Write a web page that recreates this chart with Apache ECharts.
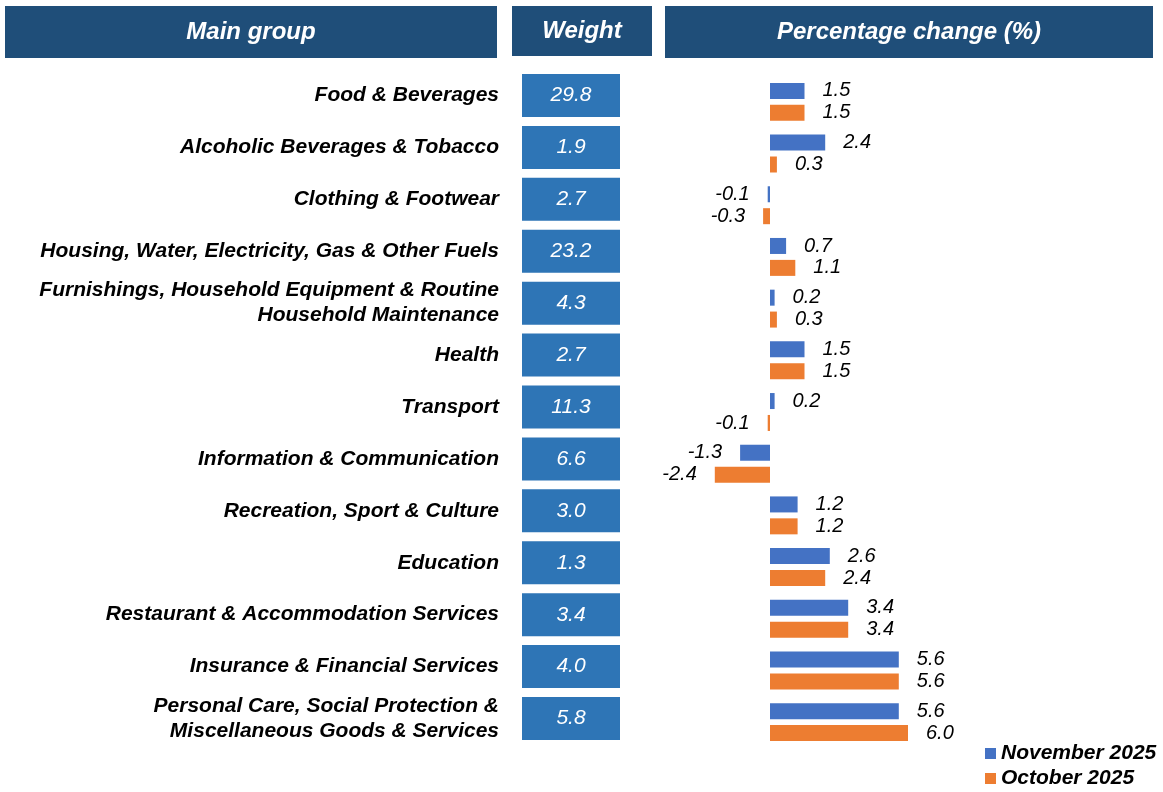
<!DOCTYPE html>
<html>
<head>
<meta charset="utf-8">
<script src="https://cdn.jsdelivr.net/npm/echarts@6/dist/echarts.min.js"></script>
<style>
  html, body { margin: 0; padding: 0; background: #fff; }
  #chart { width: 1163px; height: 792px; }
</style>
</head>
<body>
<div id="chart"></div>
<script>
var groups = [
  'Food & Beverages',
  'Alcoholic Beverages & Tobacco',
  'Clothing & Footwear',
  'Housing, Water, Electricity, Gas & Other Fuels',
  'Furnishings, Household Equipment & Routine\nHousehold Maintenance',
  'Health',
  'Transport',
  'Information & Communication',
  'Recreation, Sport & Culture',
  'Education',
  'Restaurant & Accommodation Services',
  'Insurance & Financial Services',
  'Personal Care, Social Protection &\nMiscellaneous Goods & Services'
];
var weights = [29.8, 1.9, 2.7, 23.2, 4.3, 2.7, 11.3, 6.6, 3.0, 1.3, 3.4, 4.0, 5.8];
var nov2025 = [1.5, 2.4, -0.1, 0.7, 0.2, 1.5, 0.2, -1.3, 1.2, 2.6, 3.4, 5.6, 5.6];
var oct2025 = [1.5, 0.3, -0.3, 1.1, 0.3, 1.5, -0.1, -2.4, 1.2, 2.4, 3.4, 5.6, 6.0];

var FONT = 'Liberation Sans, Arial, sans-serif';

function barData(arr) {
  return arr.map(function (v) {
    return { value: v, label: { position: v < 0 ? 'left' : 'right' } };
  });
}

var valueLabel = {
  show: true,
  distance: 18,
  fontFamily: FONT,
  fontStyle: 'italic',
  fontSize: 20,
  color: '#000',
  formatter: function (p) { return p.value.toFixed(1); }
};

function header(x, y, w, h, txt) {
  return {
    type: 'rect',
    left: x, top: y,
    shape: { width: w, height: h },
    style: { fill: '#1f4e79' },
    textContent: {
      style: {
        text: txt, fill: '#fff', fontFamily: FONT,
        fontStyle: 'italic', fontWeight: 'bold', fontSize: 24
      }
    },
    textConfig: { position: 'inside' }
  };
}

var option = {
  animation: false,
  graphic: [
    header(5, 6, 492, 52, 'Main group'),
    header(512, 6, 140, 50, 'Weight'),
    header(665, 6, 488, 52, 'Percentage change (%)')
  ],
  legend: {
    data: ['November 2025', 'October 2025'],
    orient: 'vertical',
    left: 985,
    top: 743,
    padding: 0,
    itemWidth: 11,
    itemHeight: 11,
    itemGap: 4,
    icon: 'rect',
    textStyle: {
      fontFamily: FONT, fontStyle: 'italic', fontWeight: 'bold',
      fontSize: 21, color: '#000'
    }
  },
  grid: [
    { left: 522, width: 98, top: 69.5, height: 675, containLabel: false },
    { left: 701, width: 230, top: 76, height: 672, containLabel: false }
  ],
  xAxis: [
    { gridIndex: 0, type: 'value', min: 0, max: 1, show: false },
    { gridIndex: 1, type: 'value', min: -3, max: 7, show: false }
  ],
  yAxis: [
    {
      gridIndex: 0, type: 'category', data: groups, inverse: true,
      axisLine: { show: false }, axisTick: { show: false }, splitLine: { show: false },
      axisLabel: {
        margin: 23,
        fontFamily: FONT, fontStyle: 'italic', fontWeight: 'bold',
        fontSize: 21, color: '#000', lineHeight: 25, align: 'right'
      }
    },
    { gridIndex: 1, type: 'category', data: groups, inverse: true, show: false }
  ],
  series: [
    {
      name: 'Weight',
      type: 'scatter',
      xAxisIndex: 0, yAxisIndex: 0,
      symbol: 'rect',
      symbolSize: [98, 43],
      itemStyle: { color: '#2e75b6', opacity: 1 },
      data: weights.map(function (w, i) { return [0.5, i]; }),
      label: {
        show: true, position: 'inside',
        fontFamily: FONT, fontStyle: 'italic', fontSize: 21, color: '#fff',
        formatter: function (p) { return weights[p.dataIndex].toFixed(1); }
      },
      silent: true
    },
    {
      name: 'November 2025',
      type: 'bar',
      xAxisIndex: 1, yAxisIndex: 1,
      barWidth: 16,
      barGap: '37%',
      itemStyle: { color: '#4472c4' },
      label: valueLabel,
      data: barData(nov2025)
    },
    {
      name: 'October 2025',
      type: 'bar',
      xAxisIndex: 1, yAxisIndex: 1,
      barWidth: 16,
      itemStyle: { color: '#ed7d31' },
      label: valueLabel,
      data: barData(oct2025)
    }
  ]
};

var chart = echarts.init(document.getElementById('chart'));
chart.setOption(option);
</script>
</body>
</html>
